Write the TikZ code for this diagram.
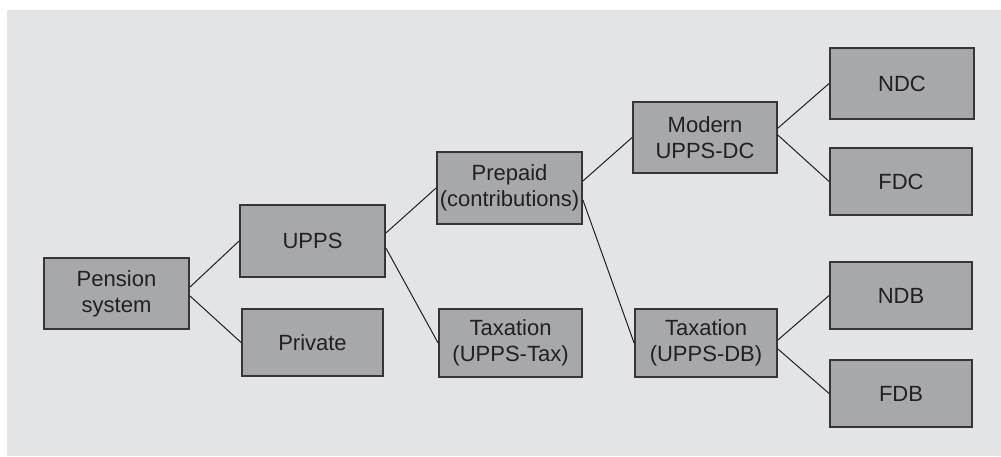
\documentclass[tikz,border=0pt]{standalone}
\usepackage{fontspec}
\setmainfont{Liberation Sans}
\usepackage{xcolor}
\usetikzlibrary{positioning}

\definecolor{bggrey}{HTML}{E3E4E6}
\definecolor{boxgrey}{HTML}{A7A8AB}
\definecolor{inkgrey}{HTML}{231F20}

\begin{document}
\begin{tikzpicture}[x=0.5pt,y=-0.5pt]
   \tikzstyle{bx}=[rectangle, draw=inkgrey!90, line width=0.9pt, fill=boxgrey, text=inkgrey,
      align=center, font=\fontsize{11}{13}\selectfont, inner sep=0pt]
   \tikzstyle{link}=[draw=inkgrey, line width=0.5pt]
   \useasboundingbox (0,0) rectangle (1001,456);
   \fill[bggrey] (7,10) rectangle (1001,456);
   %% boxes
\node (pen) at (116.5,293.5) [bx, minimum width=72.5pt, minimum height=35.5pt] {Pension\\system};
\node (upps) at (312.5,241) [bx, minimum width=72.5pt, minimum height=36pt] {UPPS};
\node (priv) at (312.5,342.5) [bx, minimum width=70.5pt, minimum height=33.5pt] {Private};
\node (prep) at (509.5,188) [bx, minimum width=72.5pt, minimum height=36pt] {Prepaid\\(contributions)};
\node (tax) at (510.5,343) [bx, minimum width=71.5pt, minimum height=34pt] {Taxation\\(UPPS-Tax)};
\node (mod) at (705,137.5) [bx, minimum width=72pt, minimum height=35.5pt] {Modern\\UPPS-DC};
\node (taxdb) at (706,343) [bx, minimum width=71pt, minimum height=34pt] {Taxation\\(UPPS-DB)};
\node (ndc) at (902,83.5) [bx, minimum width=72pt, minimum height=35.5pt] {NDC};
\node (fdc) at (901,181.5) [bx, minimum width=71pt, minimum height=33.5pt] {FDC};
\node (ndb) at (901,295.5) [bx, minimum width=71pt, minimum height=33.5pt] {NDB};
\node (fdb) at (901,393.5) [bx, minimum width=71pt, minimum height=33.5pt] {FDB};
   %% links
\foreach \p/\c/\s in {pen/upps/3.2pt, pen/priv/-1.2pt, upps/prep/4pt, upps/tax/-3.5pt,
      prep/mod/3.5pt, prep/taxdb/-6pt, mod/ndc/4.7pt, mod/fdc/1.2pt, taxdb/ndb/1.5pt, taxdb/fdb/-3pt}
   \draw[link] ([yshift=\s]\p.east) -- (\c.west);
    \end{tikzpicture}
\end{document}
